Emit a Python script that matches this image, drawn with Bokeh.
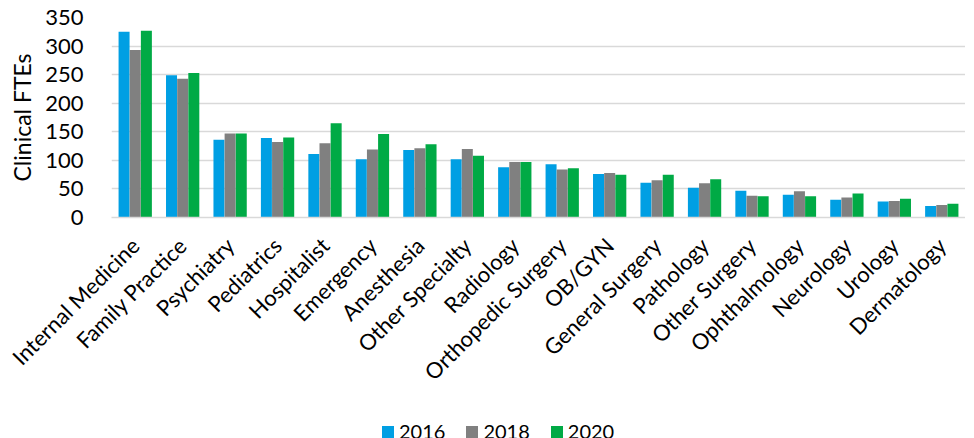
from math import pi
from bokeh.plotting import figure
from bokeh.layouts import column
from bokeh.models import ColumnDataSource, FactorRange, Legend, LegendItem
from bokeh.transform import dodge
from bokeh.embed import file_html
from bokeh.resources import INLINE

categories = ["Internal Medicine", "Family Practice", "Psychiatry", "Pediatrics", "Hospitalist",
              "Emergency", "Anesthesia", "Other Specialty", "Radiology", "Orthopedic Surgery",
              "OB/GYN", "General Surgery", "Pathology", "Other Surgery", "Ophthalmology",
              "Neurology", "Urology", "Dermatology"]
fte_2016 = [325, 249, 136, 139, 111, 102, 118, 102, 88, 93, 76, 61, 52, 47, 40, 31, 28, 20]
fte_2018 = [293, 243, 147, 132, 130, 119, 121, 120, 97, 84, 78, 65, 60, 38, 46, 35, 29, 22]
fte_2020 = [327, 253, 147, 140, 165, 146, 128, 108, 97, 86, 75, 75, 67, 37, 37, 42, 33, 24]
years = ["2016", "2018", "2020"]
y_ticks = [0, 50, 100, 150, 200, 250, 300, 350]

colors = ["#009FE3", "#808080", "#00AA45"]
FONT = "Lato"
keys = ["y2016", "y2018", "y2020"]

src = ColumnDataSource(dict(cat=categories, y2016=fte_2016, y2018=fte_2018, y2020=fte_2020))

p = figure(x_range=FactorRange(*categories, range_padding=0), y_range=(0, 350),
           frame_width=854, frame_height=200,
           min_border_left=111, min_border_right=0, min_border_top=17, min_border_bottom=0,
           output_backend="svg", toolbar_location=None)
p.outline_line_color = None
p.background_fill_color = "white"

for i, (yr, col) in enumerate(zip(keys, colors)):
    p.vbar(x=dodge("cat", (i - 1) * 0.235, range=p.x_range), top=yr, width=0.232,
           source=src, fill_color=col, line_color=None)

p.xgrid.grid_line_color = None
p.ygrid.grid_line_color = "#D9D9D9"
p.ygrid.grid_line_width = 1.5
p.yaxis.ticker = y_ticks
p.yaxis.axis_line_color = None
p.yaxis.major_tick_line_color = None
p.yaxis.minor_tick_line_color = None
p.yaxis.major_label_text_font = FONT
p.yaxis.major_label_text_font_size = "22px"
p.yaxis.major_label_text_color = "#000000"
p.yaxis.major_label_standoff = 22
p.yaxis.axis_label = "Clinical FTEs"
p.yaxis.axis_label_text_font = FONT
p.yaxis.axis_label_text_font_size = "23px"
p.yaxis.axis_label_text_font_style = "normal"
p.yaxis.axis_label_text_color = "#000000"
p.yaxis.axis_label_standoff = 6

p.xaxis.axis_line_color = "#D9D9D9"
p.xaxis.axis_line_width = 1.5
p.xaxis.major_tick_line_color = None
p.xaxis.minor_tick_line_color = None
p.xaxis.major_label_orientation = pi / 4
p.xaxis.major_label_text_font = FONT
p.xaxis.major_label_text_font_size = "22px"
p.xaxis.major_label_text_color = "#000000"
p.xaxis.major_label_standoff = 18

# legend-only strip below the chart (its swatch renderers sit outside the visible range)
lg = figure(width=965, height=46, x_range=(0, 1), y_range=(0, 1),
            x_axis_location=None, y_axis_location=None,
            min_border=0, output_backend="svg", toolbar_location=None)
lg.grid.visible = False
lg.outline_line_color = None
leg_src = ColumnDataSource(dict(cat=[5], y2016=[5], y2018=[5], y2020=[5]))
leg_renderers = [lg.vbar(x="cat", top=k, width=0.1, source=leg_src, fill_color=c, line_color=None)
                 for k, c in zip(keys, colors)]
legend = Legend(items=[LegendItem(label=y, renderers=[r]) for y, r in zip(years, leg_renderers)],
                orientation="horizontal", location=(269, 0),
                label_text_font=FONT, label_text_font_size="20px", label_text_color="#000000",
                glyph_width=15, glyph_height=15, label_standoff=4, spacing=19,
                padding=0, margin=0, border_line_color=None, background_fill_alpha=0)
lg.add_layout(legend)

layout = column(p, lg, spacing=0)
open("out.html", "w").write(file_html(layout, INLINE))
